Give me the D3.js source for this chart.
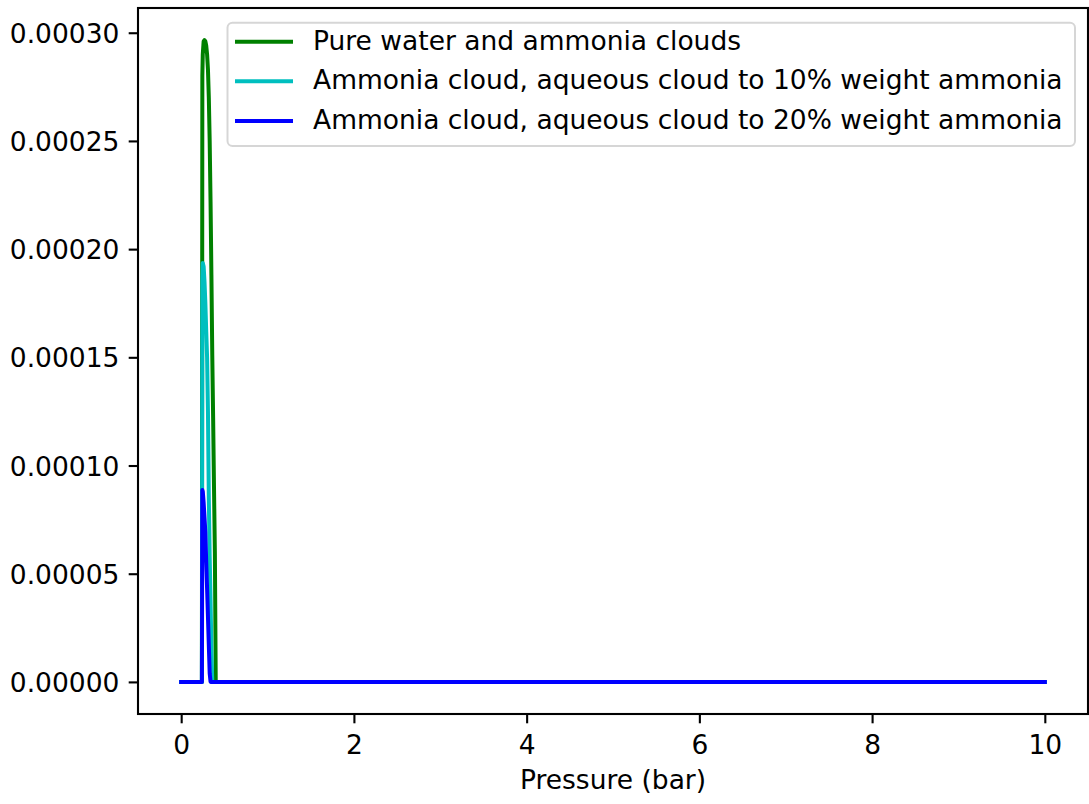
<!DOCTYPE html>
<html>
<head>
<meta charset="utf-8">
<script src="https://cdn.jsdelivr.net/npm/d3@7"></script>
<style>
  html, body { margin: 0; padding: 0; background: #fff; }
  svg { display: block; }
  text { font-family: "DejaVu Sans", sans-serif; fill: #000; }
</style>
</head>
<body>
<svg id="chart" width="1089" height="804"></svg>
<script>
// ---- Data ----
const pressure = [0, 0.24, 0.245, 0.25, 0.26, 0.27, 0.28, 0.29, 0.30, 0.31, 0.32, 0.33, 0.34, 0.35, 0.36, 0.37, 0.38, 0.39, 0.40, 10];
const pureWater = [0, 0, 0.000280, 0.000290, 0.000296, 0.0002966, 0.000296, 0.000294, 0.000290, 0.000283, 0.000270, 0.000250, 0.000222, 0.000188, 0.000151, 0.000122, 0.000090, 0.000060, 0, 0];
const aqueous10 = [0, 0, 0.000185, 0.0001936, 0.000192, 0.000185, 0.000175, 0.000162, 0.000150, 0.000125, 0.000085, 0.000058, 0.000038, 0.000015, 0, 0, 0, 0, 0, 0];
const aqueous20 = [0, 0, 0.0000887, 0.000088, 0.000083, 0.000076, 0.000069, 0.000055, 0.000043, 0.000030, 0.000017, 0.000004, 0, 0, 0, 0, 0, 0, 0, 0];

const seriesNames = [
  "Pure water and ammonia clouds",
  "Ammonia cloud, aqueous cloud to 10% weight ammonia",
  "Ammonia cloud, aqueous cloud to 20% weight ammonia"
];
const seriesValues = [pureWater, aqueous10, aqueous20];
const seriesColors = ["#008000", "#00bfbf", "#0000ff"];

const xTicks = [0, 2, 4, 6, 8, 10];
const yTicks = [0, 0.00005, 0.00010, 0.00015, 0.00020, 0.00025, 0.00030];
const xLabel = "Pressure (bar)";

// ---- Layout ----
const svg = d3.select("#chart");
const m = { left: 138, right: 1088, top: 8, bottom: 714 };
const fs = 26.5;
const tickLen = 9.3, tickPad = 9.3;

const xMin = d3.min(pressure), xMax = d3.max(pressure);
const yMax = d3.max(seriesValues.flat()), yMin = 0;
const xr = xMax - xMin, yr = yMax - yMin;

const x = d3.scaleLinear().domain([xMin - 0.05 * xr, xMax + 0.05 * xr]).range([m.left, m.right]);
const y = d3.scaleLinear().domain([yMin - 0.05 * yr, yMax + 0.05 * yr]).range([m.bottom, m.top]);

// Lines
const line = d3.line().x(d => x(d[0])).y(d => y(d[1]));
seriesValues.forEach((vals, i) => {
  svg.append("path")
    .datum(pressure.map((p, j) => [p, vals[j]]))
    .attr("d", line)
    .attr("fill", "none")
    .attr("stroke", seriesColors[i])
    .attr("stroke-width", 4)
    .attr("stroke-linejoin", "round")
    .attr("stroke-linecap", "square");
});

// Axes
const xAxis = d3.axisBottom(x).tickValues(xTicks).tickFormat(d3.format("d")).tickSize(tickLen).tickPadding(tickPad);
const yAxis = d3.axisLeft(y).tickValues(yTicks).tickFormat(d3.format(".5f")).tickSize(tickLen).tickPadding(tickPad);

const gx = svg.append("g").attr("transform", `translate(0,${m.bottom})`).call(xAxis);
const gy = svg.append("g").attr("transform", `translate(${m.left},0)`).call(yAxis);
[gx, gy].forEach(g => {
  g.select(".domain").remove();
  g.selectAll(".tick line").attr("stroke", "#000").attr("stroke-width", 2.1);
  g.selectAll(".tick text").attr("font-size", fs).attr("font-family", "DejaVu Sans").attr("fill", "#000");
});
gx.selectAll(".tick text").attr("dy", null).attr("y", 39.5);
gy.selectAll(".tick text").attr("dy", "0.36em");

// Frame
svg.append("rect")
  .attr("x", m.left).attr("y", m.top)
  .attr("width", m.right - m.left).attr("height", m.bottom - m.top)
  .attr("fill", "none").attr("stroke", "#000").attr("stroke-width", 2.1);

// X label
svg.append("text")
  .attr("x", (m.left + m.right) / 2).attr("y", 789)
  .attr("text-anchor", "middle").attr("font-size", fs)
  .text(xLabel);

// Legend
const lg = svg.append("g");
lg.append("rect")
  .attr("x", 227.5).attr("y", 22.7).attr("width", 1075 - 227.5).attr("height", 146 - 22.7)
  .attr("rx", 5).attr("ry", 5)
  .attr("fill", "#fff").attr("fill-opacity", 0.8)
  .attr("stroke", "#cccccc").attr("stroke-opacity", 0.8).attr("stroke-width", 2);
seriesNames.forEach((name, i) => {
  const cy = 41.7 + i * 39.6;
  lg.append("line")
    .attr("x1", 235).attr("x2", 293).attr("y1", cy).attr("y2", cy)
    .attr("stroke", seriesColors[i]).attr("stroke-width", 4);
  lg.append("text")
    .attr("x", 313).attr("y", cy + 8)
    .attr("font-size", fs)
    .text(name);
});
</script>
</body>
</html>
